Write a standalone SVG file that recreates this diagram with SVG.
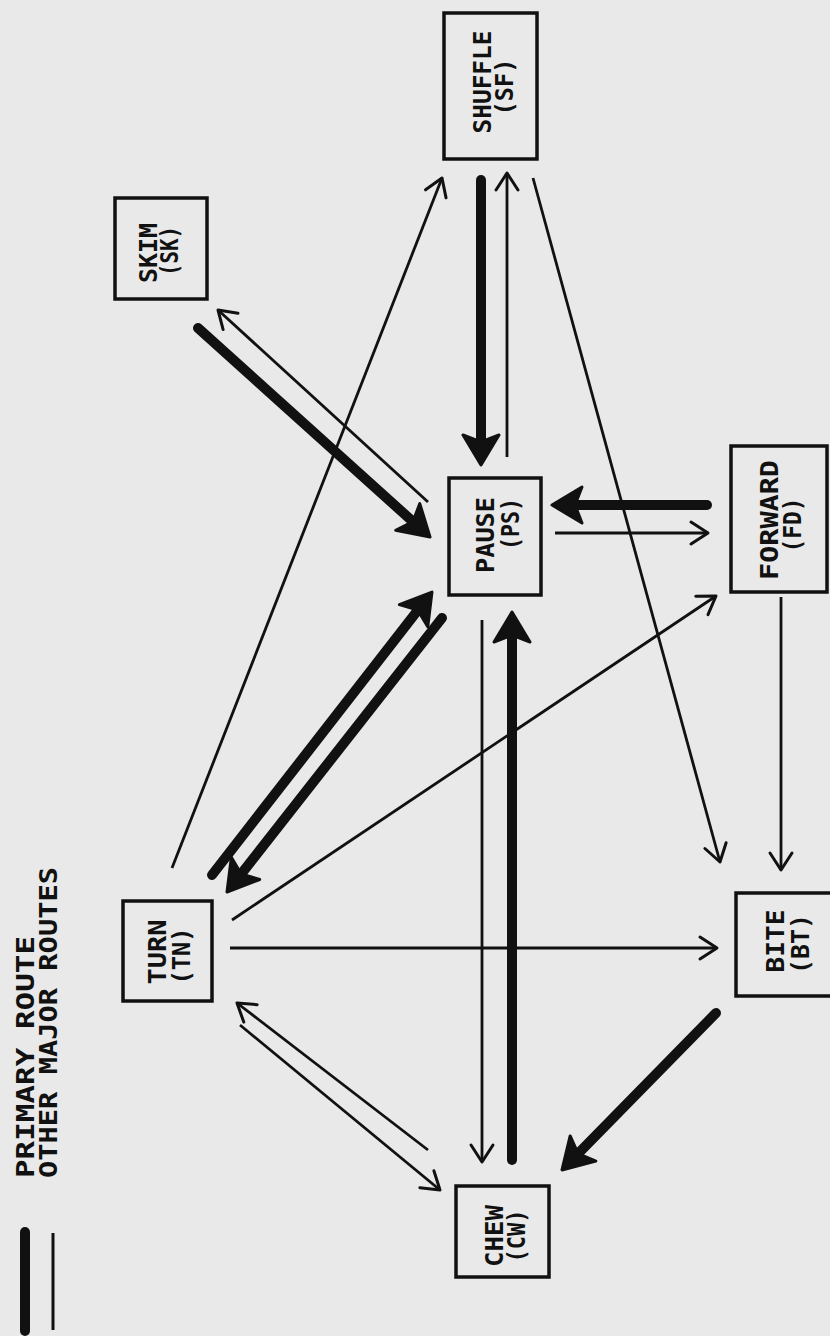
<svg xmlns="http://www.w3.org/2000/svg" width="830" height="1336" viewBox="0 0 830 1336">
  <style>
    .box { fill: none; stroke: #111; stroke-width: 3.5; }
    .lbl { font-family: "DejaVu Sans Mono", "Liberation Mono", monospace; font-weight: bold; font-size: 24px; fill: #111; text-anchor: middle; }
    .leg { font-family: "DejaVu Sans Mono", "Liberation Mono", monospace; font-weight: bold; font-size: 24px; fill: #111; text-anchor: start; }
    .thin { stroke: #111; stroke-width: 2.8; fill: none; marker-end: url(#open); }
    .thick { stroke: #111; stroke-width: 10; fill: none; stroke-linecap: round; marker-end: url(#solid); }
  </style>
  <defs>
    <marker id="open" markerUnits="userSpaceOnUse" markerWidth="24" markerHeight="28" viewBox="0 0 24 28" refX="20" refY="14" orient="auto">
      <path d="M3,3 L20,14 L3,25" fill="none" stroke="#111" stroke-width="3" stroke-linecap="round" stroke-linejoin="round"/>
    </marker>
    <marker id="solid" markerUnits="userSpaceOnUse" markerWidth="34" markerHeight="40" viewBox="0 0 34 40" refX="20" refY="20" orient="auto">
      <path d="M2,2 L32,20 L2,38 L9,20 Z" fill="#111" stroke="#111" stroke-width="3" stroke-linejoin="round"/>
    </marker>
  </defs>
  <rect x="0" y="0" width="830" height="1336" fill="#e9e9e9"/>

  <g id="legend">
    <line x1="25" y1="1232" x2="25" y2="1331" stroke="#111" stroke-width="10" stroke-linecap="round"/>
    <line x1="53" y1="1233" x2="53" y2="1330" stroke="#111" stroke-width="3"/>
    <text class="leg" x="34" y="1178" transform="rotate(-90 34 1178)" textLength="242" lengthAdjust="spacingAndGlyphs">PRIMARY ROUTE</text>
    <text class="leg" x="57" y="1178" transform="rotate(-90 57 1178)" textLength="311" lengthAdjust="spacingAndGlyphs">OTHER MAJOR ROUTES</text>
  </g>

  <g id="connectors">
    <!-- primary routes -->
    <line class="thick" x1="481" y1="180" x2="481" y2="453"/>
    <line class="thick" x1="198" y1="328" x2="421.1" y2="529"/>
    <line class="thick" x1="707" y1="505" x2="564" y2="505"/>
    <line class="thick" x1="212" y1="875" x2="424.6" y2="601.5"/>
    <line class="thick" x1="442" y1="618" x2="234.4" y2="882.6"/>
    <line class="thick" x1="512" y1="1160" x2="512" y2="624"/>
    <line class="thick" x1="716" y1="1013" x2="570.4" y2="1161.4"/>
    <!-- other major routes -->
    <line class="thin" x1="507" y1="457" x2="507" y2="173"/>
    <line class="thin" x1="172" y1="868" x2="442" y2="178"/>
    <line class="thin" x1="533" y1="178" x2="720" y2="862"/>
    <line class="thin" x1="428" y1="502" x2="218" y2="310"/>
    <line class="thin" x1="555" y1="533" x2="708" y2="533"/>
    <line class="thin" x1="232" y1="920" x2="716" y2="596"/>
    <line class="thin" x1="230" y1="948" x2="717" y2="948"/>
    <line class="thin" x1="482" y1="620" x2="482" y2="1162"/>
    <line class="thin" x1="781" y1="597" x2="781" y2="870"/>
    <line class="thin" x1="428" y1="1150" x2="237" y2="1003"/>
    <line class="thin" x1="240" y1="1025" x2="440" y2="1190"/>
  </g>

  <g id="node-skim">
    <rect class="box" x="115" y="198" width="92" height="101"/>
    <text class="lbl" x="157" y="253" transform="rotate(-90 157 253)" textLength="60" lengthAdjust="spacingAndGlyphs">SKIM</text>
    <text class="lbl" x="178" y="251" transform="rotate(-90 178 251)" textLength="50" lengthAdjust="spacingAndGlyphs">(SK)</text>
  </g>
  <g id="node-shuffle">
    <rect class="box" x="444" y="13" width="93" height="146"/>
    <text class="lbl" x="491" y="82" transform="rotate(-90 491 82)" textLength="103" lengthAdjust="spacingAndGlyphs">SHUFFLE</text>
    <text class="lbl" x="513" y="87" transform="rotate(-90 513 87)" textLength="57" lengthAdjust="spacingAndGlyphs">(SF)</text>
  </g>
  <g id="node-pause">
    <rect class="box" x="449" y="478" width="92" height="117"/>
    <text class="lbl" x="494" y="535" transform="rotate(-90 494 535)" textLength="76" lengthAdjust="spacingAndGlyphs">PAUSE</text>
    <text class="lbl" x="519" y="524" transform="rotate(-90 519 524)" textLength="52" lengthAdjust="spacingAndGlyphs">(PS)</text>
  </g>
  <g id="node-forward">
    <rect class="box" x="731" y="446" width="96" height="146"/>
    <text class="lbl" x="778" y="520" transform="rotate(-90 778 520)" textLength="120" lengthAdjust="spacingAndGlyphs">FORWARD</text>
    <text class="lbl" x="801" y="525" transform="rotate(-90 801 525)" textLength="55" lengthAdjust="spacingAndGlyphs">(FD)</text>
  </g>
  <g id="node-turn">
    <rect class="box" x="123" y="901" width="89" height="100"/>
    <text class="lbl" x="166" y="952" transform="rotate(-90 166 952)" textLength="65" lengthAdjust="spacingAndGlyphs">TURN</text>
    <text class="lbl" x="190" y="956" transform="rotate(-90 190 956)" textLength="57" lengthAdjust="spacingAndGlyphs">(TN)</text>
  </g>
  <g id="node-bite">
    <rect class="box" x="736" y="893" width="96" height="103"/>
    <text class="lbl" x="784" y="941" transform="rotate(-90 784 941)" textLength="63" lengthAdjust="spacingAndGlyphs">BITE</text>
    <text class="lbl" x="809" y="944" transform="rotate(-90 809 944)" textLength="60" lengthAdjust="spacingAndGlyphs">(BT)</text>
  </g>
  <g id="node-chew">
    <rect class="box" x="456" y="1186" width="93" height="91"/>
    <text class="lbl" x="503" y="1236" transform="rotate(-90 503 1236)" textLength="62" lengthAdjust="spacingAndGlyphs">CHEW</text>
    <text class="lbl" x="525" y="1236" transform="rotate(-90 525 1236)" textLength="53" lengthAdjust="spacingAndGlyphs">(CW)</text>
  </g>
</svg>
